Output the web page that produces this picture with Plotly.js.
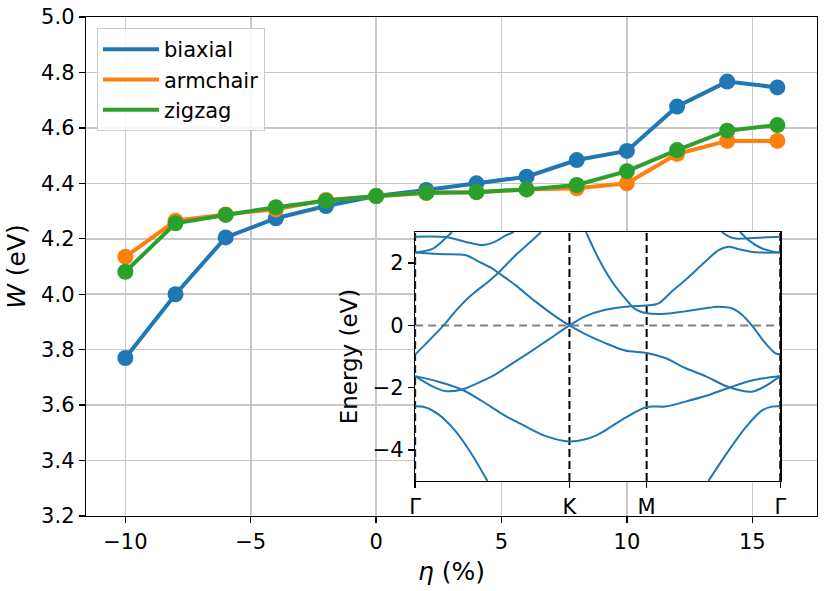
<!DOCTYPE html>
<html>
<head>
<meta charset="utf-8">
<script src="https://cdn.plot.ly/plotly-3.0.1.min.js"></script>
<style>html,body{margin:0;padding:0;background:#fff;}#chart{width:830px;height:591px;}</style>
</head>
<body>
<div id="chart"></div>
<script>
// ---- Main chart data: work function W (eV) vs strain eta (%) ----
const eta = [-10, -8, -6, -4, -2, 0, 2, 4, 6, 8, 10, 12, 14, 16];
const biaxial  = [3.770, 4.000, 4.205, 4.274, 4.318, 4.354, 4.376, 4.400, 4.424, 4.484, 4.517, 4.677, 4.767, 4.746];
const armchair = [4.135, 4.265, 4.288, 4.306, 4.340, 4.354, 4.366, 4.368, 4.378, 4.382, 4.400, 4.506, 4.553, 4.553];
const zigzag   = [4.081, 4.256, 4.286, 4.314, 4.337, 4.354, 4.366, 4.368, 4.378, 4.394, 4.444, 4.520, 4.590, 4.610];
const seriesNames = ['biaxial', 'armchair', 'zigzag'];
const xTickVals = [-10, -5, 0, 5, 10, 15];
const xTickText = ['\u221210', '\u22125', '0', '5', '10', '15'];
const yTickVals = [3.2, 3.4, 3.6, 3.8, 4.0, 4.2, 4.4, 4.6, 4.8, 5.0];

// ---- Inset: band structure along Γ-K-M-Γ (k as fraction of path) ----
const kTicks = [0, 0.4226, 0.634, 1];
const kLabels = ['\u0393', 'K', 'M', '\u0393'];
const eTickVals = [-4, -2, 0, 2];
const eTickText = ['\u22124', '\u22122', '0', '2'];

const band1K = [0, 0.064, 0.137, 0.174, 0.211, 0.228, 0.274, 0.329, 0.384, 0.4226, 0.466, 0.521, 0.575, 0.634, 0.685, 0.740, 0.795, 0.858, 0.922, 0.959, 1.0];
const band1E = [2.34, 2.29, 2.26, 2.05, 1.83, 1.69, 1.30, 0.77, 0.29, 0.0, -0.28, -0.57, -0.81, -0.89, -1.05, -1.37, -1.63, -1.98, -2.13, -1.95, -1.63];

const band2K = [0, 0.027, 0.078, 0.110, 0.155, 0.201, 0.228, 0.279, 0.310, 0.345];
const band2E = [-0.94, -0.62, 0.0, 0.45, 0.98, 1.41, 1.69, 2.30, 2.62, 3.0];

const band3K = [0, 0.046, 0.073, 0.101];
const band3E = [2.34, 2.45, 2.69, 3.0];

const band4K = [0, 0.083, 0.137, 0.185, 0.219, 0.247, 0.270];
const band4E = [2.85, 2.84, 2.69, 2.58, 2.69, 2.88, 3.0];

const band5K = [0, 0.046, 0.082, 0.128, 0.183, 0.219, 0.247, 0.310, 0.365, 0.4226, 0.466, 0.521, 0.584, 0.634, 0.667, 0.703, 0.740, 0.795, 0.831, 0.858, 0.886, 0.932, 1.0];
const band5E = [-1.63, -1.95, -2.11, -2.06, -1.79, -1.58, -1.37, -0.89, -0.46, 0.0, 0.29, 0.50, 0.61, 0.64, 0.71, 1.09, 1.46, 2.05, 2.42, 2.53, 2.45, 2.35, 2.34];

const band6K = [0.468, 0.502, 0.539, 0.575, 0.603, 0.634, 0.685, 0.740, 0.795, 0.831, 0.867, 0.895, 0.922, 0.959, 0.986, 1.0];
const band6E = [3.0, 2.15, 1.41, 0.87, 0.52, 0.39, 0.37, 0.45, 0.55, 0.60, 0.55, 0.34, 0.0, -0.57, -0.89, -0.94];

const band7K = [0, 0.064, 0.128, 0.183, 0.247, 0.292, 0.356, 0.4226, 0.466, 0.493, 0.521, 0.575, 0.634, 0.685, 0.740, 0.795, 0.858, 0.922, 1.0];
const band7E = [-1.63, -1.81, -2.06, -2.43, -2.91, -3.18, -3.55, -3.73, -3.66, -3.55, -3.37, -2.97, -2.62, -2.61, -2.45, -2.27, -2.01, -1.77, -1.63];

const band8K = [0, 0.027, 0.064, 0.110, 0.155, 0.198];
const band8E = [-2.60, -2.63, -2.86, -3.39, -4.14, -5.0];

const band9K = [0.803, 0.858, 0.904, 0.950, 0.977, 1.0];
const band9E = [-5.0, -4.03, -3.29, -2.73, -2.61, -2.60];

const band10K = [0.840, 0.858, 0.877, 0.930, 1.0];
const band10E = [3.0, 2.86, 2.79, 2.81, 2.85];

const band11K = [0.890, 0.913, 0.950, 0.980, 1.0];
const band11E = [3.0, 2.74, 2.47, 2.37, 2.34];

const eRange = [-5, 3];

// ---- Build traces ----
const colors = ['#1f77b4', '#ff7f0e', '#2ca02c'];
const seriesVals = [biaxial, armchair, zigzag];
const traces = [];
seriesVals.forEach((vals, i) => {
  traces.push({x: eta, y: vals, type: 'scatter', mode: 'lines', name: seriesNames[i],
    line: {color: colors[i], width: 4}, xaxis: 'x', yaxis: 'y', hoverinfo: 'skip'});
  traces.push({x: eta, y: vals, type: 'scatter', mode: 'markers', showlegend: false,
    marker: {color: colors[i], size: 16}, xaxis: 'x', yaxis: 'y', hoverinfo: 'skip'});
});

// inset: Fermi level and high-symmetry lines
traces.push({x: [kTicks[0], kTicks[kTicks.length - 1]], y: [0, 0], type: 'scatter', mode: 'lines',
  line: {color: '#808080', width: 2, dash: '8px,5px'}, showlegend: false, xaxis: 'x2', yaxis: 'y2', hoverinfo: 'skip'});
const vx = [], vy = [];
kTicks.forEach(k => { vx.push(k, k, null); vy.push(eRange[0], eRange[1], null); });
traces.push({x: vx, y: vy, type: 'scatter', mode: 'lines',
  line: {color: '#000000', width: 2, dash: '8px,4px'}, showlegend: false, xaxis: 'x2', yaxis: 'y2', hoverinfo: 'skip'});

const bands = [[band1K, band1E], [band2K, band2E], [band3K, band3E], [band4K, band4E], [band5K, band5E],
  [band6K, band6E], [band7K, band7E], [band8K, band8E], [band9K, band9E], [band10K, band10E], [band11K, band11E]];
bands.forEach(b => {
  traces.push({x: b[0], y: b[1], type: 'scatter', mode: 'lines',
    line: {color: '#1f77b4', width: 2, shape: 'spline', smoothing: 0.8}, showlegend: false,
    xaxis: 'x2', yaxis: 'y2', hoverinfo: 'skip'});
});

// ---- Layout ----
const L = 86, R = 816.7, T = 17, B = 516, W = 830, H = 591;
const pw = R - L, ph = B - T;
const insL = 415, insR = 780, insT = 232, insB = 481;
const font = 'DejaVu Sans, Liberation Sans, sans-serif';

const layout = {
  width: W, height: H,
  margin: {l: L, r: W - R, t: T, b: H - B, pad: 0},
  paper_bgcolor: '#ffffff', plot_bgcolor: '#ffffff',
  font: {family: font, color: '#000000', size: 21},
  showlegend: true,
  legend: {x: (97 - L) / pw, y: (B - 28) / ph, xanchor: 'left', yanchor: 'top',
    bgcolor: 'rgba(255,255,255,0.85)', bordercolor: '#cccccc', borderwidth: 1,
    font: {family: font, size: 21}, tracegroupgap: 0, itemwidth: 56},
  xaxis: {domain: [0, 1], range: [-11.57, 17.58], tickvals: xTickVals, ticktext: xTickText,
    showgrid: true, gridcolor: '#c8c8c8', gridwidth: 1.5, zeroline: false,
    showline: true, mirror: true, linecolor: '#000000', linewidth: 1.3,
    ticks: 'outside', ticklen: 6, tickwidth: 1.3, tickcolor: '#000000',
    tickfont: {family: font, size: 21},
    title: {text: '<i>\u03b7</i> (%)', font: {family: font, size: 25}, standoff: 10}},
  yaxis: {domain: [0, 1], range: [3.2, 5.0], tickvals: yTickVals, tickformat: '.1f',
    showgrid: true, gridcolor: '#c8c8c8', gridwidth: 1.5, zeroline: false,
    showline: true, mirror: true, linecolor: '#000000', linewidth: 1.3,
    ticks: 'outside', ticklen: 6, tickwidth: 1.3, tickcolor: '#000000',
    tickfont: {family: font, size: 21},
    title: {text: '<i>W</i> (eV)', font: {family: font, size: 25}, standoff: 8}},
  xaxis2: {domain: [(insL - L) / pw, (insR - L) / pw], anchor: 'y2', range: [0, 1],
    tickvals: kTicks, ticktext: kLabels, showgrid: false, zeroline: false,
    showline: true, mirror: true, linecolor: '#000000', linewidth: 1.3,
    ticks: 'outside', ticklen: 6, tickwidth: 1.3, tickcolor: '#000000',
    tickfont: {family: font, size: 21}},
  yaxis2: {domain: [(B - insB) / ph, (B - insT) / ph], anchor: 'x2', range: eRange,
    tickvals: eTickVals, ticktext: eTickText, showgrid: false, zeroline: false,
    showline: true, mirror: true, linecolor: '#000000', linewidth: 1.3,
    ticks: 'outside', ticklen: 6, tickwidth: 1.3, tickcolor: '#000000',
    tickfont: {family: font, size: 21},
    title: {text: 'Energy (eV)', font: {family: font, size: 23}, standoff: 8}}
};

Plotly.newPlot('chart', traces, layout, {displayModeBar: false, staticPlot: true});
</script>
</body>
</html>
